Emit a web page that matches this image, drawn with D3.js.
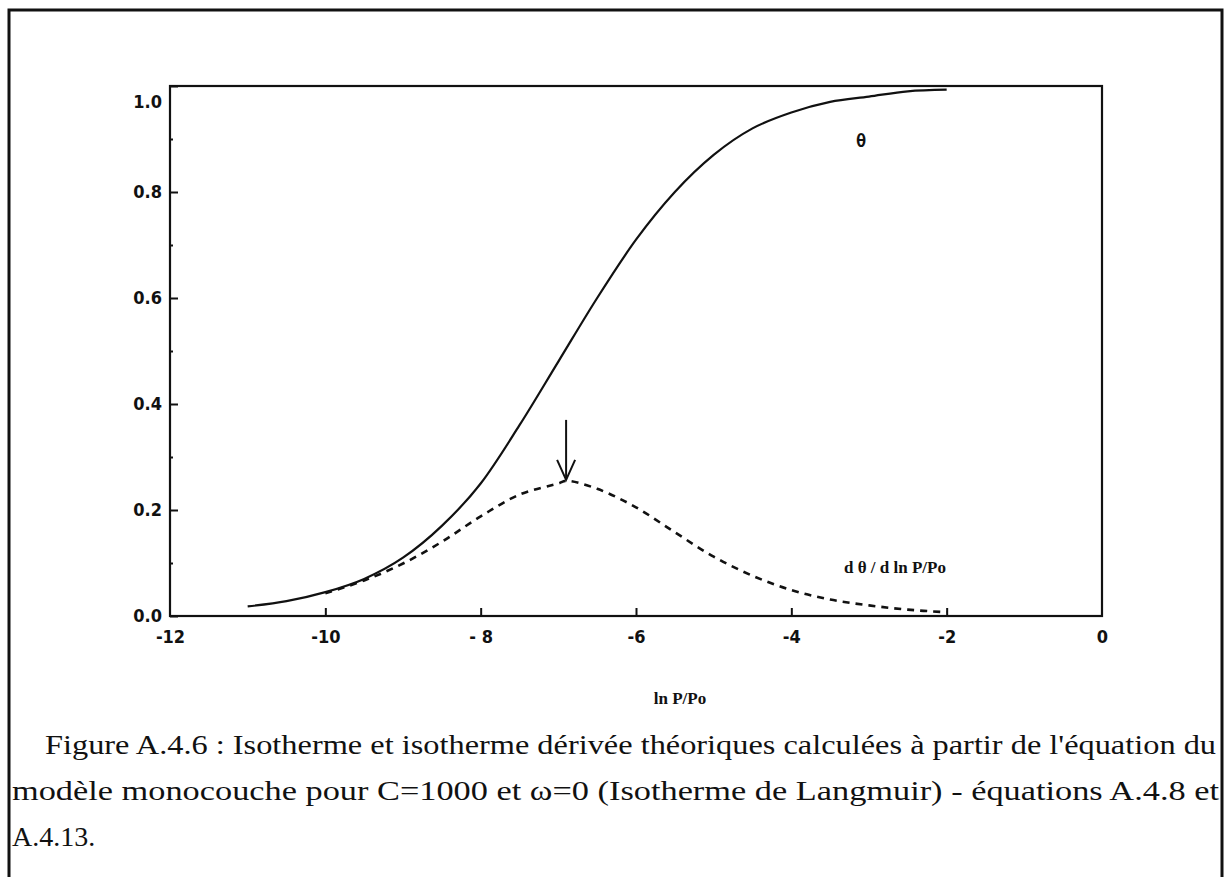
<!DOCTYPE html>
<html>
<head>
<meta charset="utf-8">
<script src="https://cdn.jsdelivr.net/npm/d3@7"></script>
<style>
  html, body { margin: 0; padding: 0; background: #fff; }
  svg { display: block; }
  .tick text { font-family: "Liberation Sans Narrow", "DejaVu Sans Condensed", sans-serif; font-weight: bold; font-size: 18px; fill: #111; }
</style>
</head>
<body>
<svg id="chart" width="1226" height="877"></svg>
<script>
// ---- data ----
const lnP = [-11, -10.5, -10, -9.5, -9, -8.5, -8, -7.5, -7, -6.5, -6, -5.5, -5, -4.5, -4, -3.5, -3, -2.5, -2];
const theta = [0.018, 0.028, 0.045, 0.07, 0.11, 0.17, 0.25, 0.36, 0.48, 0.60, 0.71, 0.80, 0.87, 0.92, 0.95, 0.97, 0.98, 0.99, 0.993];
const lnPDeriv = [-10, -9.5, -9, -8.5, -8, -7.5, -7, -6.9, -6.5, -6, -5.5, -5, -4.5, -4, -3.5, -3, -2.5, -2];
const dTheta = [0.043, 0.067, 0.099, 0.14, 0.188, 0.229, 0.25, 0.255, 0.24, 0.205, 0.158, 0.112, 0.076, 0.049, 0.031, 0.02, 0.012, 0.007];
const xTicks = [-12, -10, -8, -6, -4, -2, 0];
const xTickLabels = ["-12", "-10", "- 8", "-6", "-4", "-2", "0"];
const yTicks = [0.0, 0.2, 0.4, 0.6, 0.8, 1.0];
const yTickLabels = ["0.0", "0.2", "0.4", "0.6", "0.8", "1.0"];
const yMinorTicks = [0.1, 0.3, 0.5, 0.7, 0.9];
const arrowX = [-6.9, -6.9];
const arrowY = [0.37, 0.257];
const xLabel = "ln P/Po";
const curveLabelTheta = "θ";
const curveLabelDeriv = "d θ / d ln P/Po";
const captionLines = [
  "Figure A.4.6 : Isotherme et isotherme dérivée théoriques calculées à partir de l'équation du",
  "modèle monocouche pour C=1000 et ω=0 (Isotherme de Langmuir) - équations A.4.8 et",
  "A.4.13."
];

// ---- layout ----
const svg = d3.select("#chart");
const x = d3.scaleLinear().domain([-12, 0]).range([170, 1102]);
const y = d3.scaleLinear().domain([0, 1]).range([616, 86]);

// outer figure frame
svg.append("path")
  .attr("d", "M9,900 L9,10 L1222,10 L1222,900")
  .attr("fill", "none").attr("stroke", "#111").attr("stroke-width", 3);

// plot frame
svg.append("rect")
  .attr("x", x(-12)).attr("y", y(1)).attr("width", x(0) - x(-12)).attr("height", y(0) - y(1))
  .attr("fill", "none").attr("stroke", "#111").attr("stroke-width", 2.2);

// y axis (major)
const yAxis = svg.append("g").attr("transform", `translate(${x(-12)},0)`)
  .call(d3.axisLeft(y).tickValues(yTicks).tickSize(-8).tickPadding(8)
    .tickFormat((d, i) => yTickLabels[i]));
yAxis.select(".domain").remove();
yAxis.selectAll(".tick line").attr("stroke", "#111").attr("stroke-width", 2);
yAxis.selectAll(".tick text").filter(d => d === 1.0).attr("dy", "1.2em");

// y axis (minor)
const yMinor = svg.append("g").attr("transform", `translate(${x(-12)},0)`)
  .call(d3.axisLeft(y).tickValues(yMinorTicks).tickSize(-3).tickFormat(""));
yMinor.select(".domain").remove();
yMinor.selectAll(".tick line").attr("stroke", "#111").attr("stroke-width", 2);

// x axis
const xAxis = svg.append("g").attr("transform", `translate(0,${y(0)})`)
  .call(d3.axisBottom(x).tickValues(xTicks).tickSize(-8).tickPadding(14)
    .tickFormat((d, i) => xTickLabels[i]));
xAxis.select(".domain").remove();
xAxis.selectAll(".tick line").attr("stroke", "#111").attr("stroke-width", 2)
  .filter(d => d === -12 || d === 0).remove();

// curves
const line = d3.line().x(d => x(d[0])).y(d => y(d[1])).curve(d3.curveMonotoneX);
svg.append("path")
  .datum(lnP.map((v, i) => [v, theta[i]]))
  .attr("d", line).attr("fill", "none").attr("stroke", "#111").attr("stroke-width", 2.2);
svg.append("path")
  .datum(lnPDeriv.map((v, i) => [v, dTheta[i]]))
  .attr("d", d3.line().x(d => x(d[0])).y(d => y(d[1])).curve(d3.curveCatmullRom))
  .attr("fill", "none").attr("stroke", "#111").attr("stroke-width", 2.6)
  .attr("stroke-dasharray", "7,6");

// arrow
const ax = x(arrowX[0]), ay0 = y(arrowY[0]), ay1 = y(arrowY[1]);
svg.append("line").attr("x1", ax).attr("x2", ax).attr("y1", ay0).attr("y2", ay1)
  .attr("stroke", "#111").attr("stroke-width", 2);
svg.append("path")
  .attr("d", `M${ax - 9},${ay1 - 20} L${ax},${ay1} L${ax + 9},${ay1 - 20}`)
  .attr("fill", "none").attr("stroke", "#111").attr("stroke-width", 2);

// curve labels
svg.append("text").attr("x", 861).attr("y", 147).attr("text-anchor", "middle")
  .attr("font-family", "DejaVu Sans Mono, monospace").attr("font-size", 17).attr("font-weight", "bold").attr("fill", "#111")
  .text(curveLabelTheta);
svg.append("text").attr("x", 895).attr("y", 573).attr("text-anchor", "middle")
  .attr("font-family", "Liberation Serif, serif").attr("font-size", 17).attr("font-weight", "bold").attr("fill", "#111")
  .text(curveLabelDeriv);

// x axis label
svg.append("text").attr("x", 680).attr("y", 704).attr("text-anchor", "middle")
  .attr("font-family", "Liberation Serif, serif").attr("font-size", 17).attr("font-weight", "bold").attr("fill", "#111")
  .text(xLabel);

// caption
const capX = [45, 12, 12];
const capY = [754, 800, 846];
const capEnd = [1216, 1219, null];
svg.selectAll("text.caption").data(captionLines).enter().append("text")
  .attr("class", "caption")
  .attr("x", (d, i) => capX[i]).attr("y", (d, i) => capY[i])
  .attr("font-family", "Liberation Serif, serif").attr("font-size", 28).attr("fill", "#111")
  .each(function(d, i) {
    if (capEnd[i] !== null) {
      d3.select(this).attr("textLength", capEnd[i] - capX[i]).attr("lengthAdjust", "spacingAndGlyphs");
    }
  })
  .text(d => d);
</script>
</body>
</html>
